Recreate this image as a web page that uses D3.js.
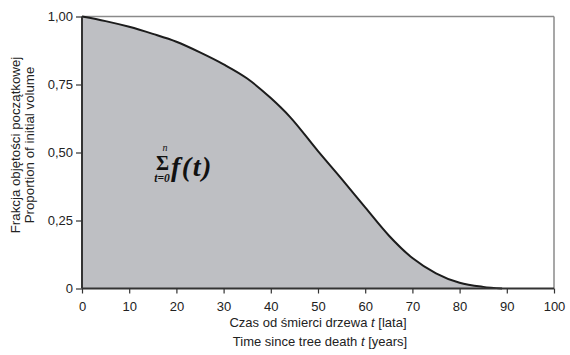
<!DOCTYPE html>
<html>
<head>
<meta charset="utf-8">
<script src="https://cdn.jsdelivr.net/npm/d3@7"></script>
<style>
  body { margin: 0; background: #fff; }
</style>
</head>
<body>
<script>
// years since death and remaining fraction of the initial volume
var years = [0, 5, 10, 15, 20, 25, 30, 35, 40, 44, 50, 55, 60, 65, 70, 75, 80, 85, 89];
var fraction = [1.0, 0.983, 0.962, 0.936, 0.907, 0.868, 0.824, 0.772, 0.70, 0.632, 0.505, 0.403, 0.298, 0.195, 0.112, 0.056, 0.021, 0.006, 0];
var xTicks = [0, 10, 20, 30, 40, 50, 60, 70, 80, 90, 100];
var yTicks = [0, 0.25, 0.5, 0.75, 1];
var yTickLabels = ['0', '0,25', '0,50', '0,75', '1,00'];

var width = 570, height = 355;
var margin = {left: 82, right: 16, top: 16.5, bottom: 66.5};
var sans = 'Liberation Sans, Arial, sans-serif';
var serif = 'Liberation Serif, Times New Roman, DejaVu Serif, serif';

var svg = d3.select('body').append('svg').attr('width', width).attr('height', height);

var x = d3.scaleLinear().domain([0, 100]).range([margin.left, width - margin.right]);
var y = d3.scaleLinear().domain([0, 1]).range([height - margin.bottom, margin.top]);

var data = years.map(function(d, i) { return {t: d, v: fraction[i]}; });

// shaded area under the curve
var area = d3.area()
    .x(function(d) { return x(d.t); })
    .y0(y(0))
    .y1(function(d) { return y(d.v); })
    .curve(d3.curveMonotoneX);
svg.append('path').datum(data).attr('d', area).attr('fill', '#bebfc3');

// top and right frame
svg.append('line').attr('x1', x(0)).attr('x2', x(100)).attr('y1', y(1)).attr('y2', y(1))
    .attr('stroke', '#8a8a8a').attr('stroke-width', 1.5);
svg.append('line').attr('x1', x(100)).attr('x2', x(100)).attr('y1', y(1)).attr('y2', y(0))
    .attr('stroke', '#8a8a8a').attr('stroke-width', 1.5);

var line = d3.line()
    .x(function(d) { return x(d.t); })
    .y(function(d) { return y(d.v); })
    .curve(d3.curveMonotoneX);
svg.append('path').datum(data).attr('d', line)
    .attr('fill', 'none').attr('stroke', '#1c1c1c').attr('stroke-width', 2);

// axes
var xAxis = svg.append('g').attr('transform', 'translate(0,' + y(0) + ')')
    .call(d3.axisBottom(x).tickValues(xTicks).tickSize(5).tickPadding(8).tickFormat(d3.format('d')));
var yAxis = svg.append('g').attr('transform', 'translate(' + x(0) + ',0)')
    .call(d3.axisLeft(y).tickValues(yTicks).tickSize(6).tickPadding(3)
        .tickFormat(function(d, i) { return yTickLabels[i]; }));

[xAxis, yAxis].forEach(function(g) {
    g.attr('font-family', sans).attr('font-size', 13);
    g.select('.domain').attr('stroke', '#333').attr('stroke-width', 2);
    g.selectAll('.tick line').attr('stroke', '#333').attr('stroke-width', 1.2);
    g.selectAll('.tick text').attr('fill', '#222');
});
xAxis.select('.domain').attr('d', 'M' + x(0) + ',0H' + x(100));
yAxis.select('.domain').attr('d', 'M0,' + y(0) + 'V' + y(1));

// axis titles
var titles = svg.append('g').attr('font-family', sans).attr('fill', '#222');
var xTitle = titles.append('text').attr('x', 318).attr('y', 327).attr('text-anchor', 'middle').attr('font-size', 13);
xTitle.append('tspan').text('Czas od śmierci drzewa ');
xTitle.append('tspan').attr('font-style', 'italic').text('t');
xTitle.append('tspan').text(' [lata]');
var xTitle2 = titles.append('text').attr('x', 320).attr('y', 345.5).attr('text-anchor', 'middle').attr('font-size', 13);
xTitle2.append('tspan').text('Time since tree death ');
xTitle2.append('tspan').attr('font-style', 'italic').text('t');
xTitle2.append('tspan').text(' [years]');

var yc = 145;
titles.append('text').attr('transform', 'translate(19.5,' + yc + ') rotate(-90)')
    .attr('text-anchor', 'middle').attr('font-size', 13.3).text('Frakcja objętości początkowej');
titles.append('text').attr('transform', 'translate(34,' + yc + ') rotate(-90)')
    .attr('text-anchor', 'middle').attr('font-size', 13.3).text('Proportion of initial volume');

// sum formula
var m = svg.append('g').attr('fill', '#111').attr('font-family', serif);
m.append('text').attr('x', 162.5).attr('y', 169.5).attr('text-anchor', 'middle')
    .attr('font-size', 20).attr('font-weight', 'bold').text('Σ');
m.append('text').attr('x', 165).attr('y', 150.5).attr('text-anchor', 'middle')
    .attr('font-size', 10).attr('font-style', 'italic').text('n');
m.append('text').attr('x', 162).attr('y', 182).attr('text-anchor', 'middle')
    .attr('font-size', 11.5).attr('font-style', 'italic').attr('font-weight', 'bold').text('t=0');
m.append('text').attr('x', 171).attr('y', 176).attr('letter-spacing', 1.5)
    .attr('font-size', 28).attr('font-style', 'italic').attr('font-weight', 'bold').text('f(t)');
</script>
</body>
</html>
